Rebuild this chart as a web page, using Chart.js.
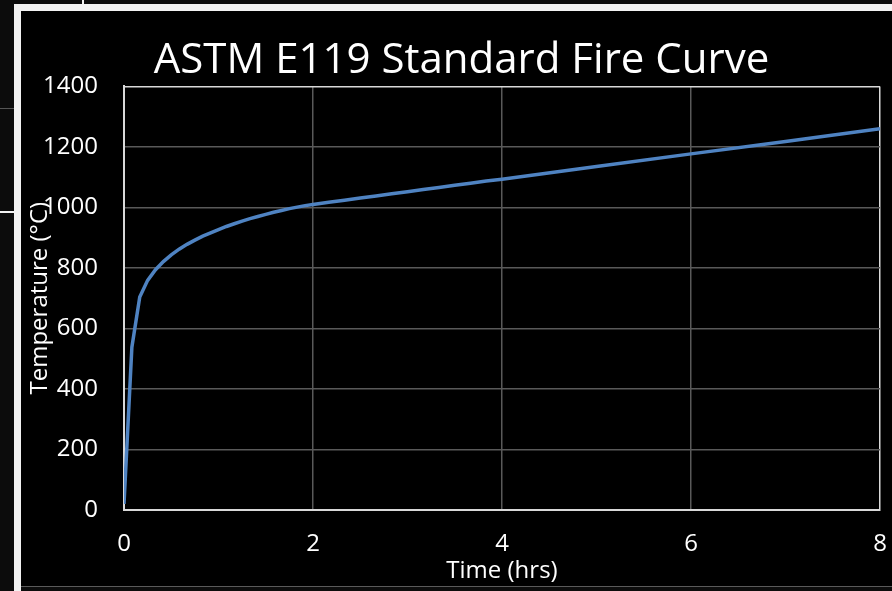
<!DOCTYPE html>
<html>
<head>
<meta charset="utf-8">
<script src="https://cdn.jsdelivr.net/npm/chart.js@4.4.1/dist/chart.umd.min.js"></script>
<style>
  html, body { margin: 0; padding: 0; }
  body { width: 892px; height: 591px; background: #0c0c0c; position: relative; overflow: hidden; }
  .frame-top { position: absolute; left: 14px; top: 4px; width: 878px; height: 7px; background: #f2f2f2; }
  .frame-left { position: absolute; left: 14px; top: 4px; width: 7px; height: 587px; background: #f2f2f2; }
  .tick-top { position: absolute; left: 82px; top: 0; width: 2px; height: 4px; background: #f2f2f2; }
  .side-line { position: absolute; left: 0; top: 211px; width: 14px; height: 2px; background: #f2f2f2; }
  .side-line2 { position: absolute; left: 0; top: 108px; width: 14px; height: 1px; background: #555; }
  #wrap { position: absolute; left: 21px; top: 11px; width: 871px; height: 575px; background: #000; border-bottom: 1px solid #5a5a5a; }
</style>
</head>
<body>
<div class="frame-top"></div>
<div class="frame-left"></div>
<div class="tick-top"></div>
<div class="side-line"></div>
<div class="side-line2"></div>
<div id="wrap"><canvas id="fire-curve"></canvas></div>
<script>
// ASTM E119 time-temperature points (time in minutes, temperature in °C)
const timeMinutes = [0, 5, 10, 15, 20, 25, 30, 35, 40, 45, 50, 55, 60, 65, 70, 75, 80, 85, 90, 95, 100,
  105, 110, 115, 120, 130, 140, 150, 160, 170, 180, 190, 200, 210, 220, 230, 240, 300, 360, 420, 480];
const temperatureC = [20, 538, 704, 759, 794, 821, 843, 862, 878, 892, 905, 916, 927, 937, 946, 955, 963, 970, 977, 984, 990,
  996, 1001, 1006, 1010, 1017, 1024, 1031, 1038, 1045, 1052, 1059, 1066, 1073, 1080, 1087, 1093, 1135, 1177, 1218, 1260];
const xTicks = [0, 2, 4, 6, 8];
const yTicks = [0, 200, 400, 600, 800, 1000, 1200, 1400];

const points = timeMinutes.map((m, i) => ({ x: m / 60, y: temperatureC[i] }));

const font = 'Open Sans';
const gridColor = '#595959';
const edgeColor = '#d9d9d9';

new Chart(document.getElementById('fire-curve').getContext('2d'), {
  type: 'line',
  data: {
    datasets: [{
      label: 'Temperature',
      data: points,
      borderColor: '#4f83c2',
      borderWidth: 3.5,
      pointRadius: 0,
      tension: 0,
      fill: false
    }]
  },
  options: {
    responsive: true,
    maintainAspectRatio: false,
    animation: false,
    // left padding nudges the centred title to where Excel put it
    layout: { padding: { left: 10, right: 0, top: 0, bottom: 0 } },
    plugins: {
      legend: { display: false },
      tooltip: { enabled: false },
      title: {
        display: true,
        text: 'ASTM E119 Standard Fire Curve',
        color: '#ffffff',
        font: { family: font, size: 42, weight: 'normal', lineHeight: 1.2 },
        padding: { top: 25, bottom: 0 }
      }
    },
    scales: {
      x: {
        type: 'linear',
        min: 0,
        max: 8,
        afterBuildTicks: (scale) => { scale.ticks = xTicks.map(v => ({ value: v })); },
        afterFit: (scale) => {
          scale.height = 76;
          scale.paddingLeft = 0;
          scale.paddingRight = 12;
        },
        grid: {
          color: (c) => (c.tick && c.tick.value === 8 ? edgeColor : gridColor),
          lineWidth: 1.5,
          drawTicks: false
        },
        border: { display: true, color: edgeColor, width: 2 },
        ticks: { color: '#ffffff', padding: 20, font: { family: font, size: 24 } },
        title: {
          display: true,
          text: 'Time (hrs)',
          color: '#ffffff',
          font: { family: font, size: 24, lineHeight: 1.2 },
          padding: { top: 0, bottom: 0 }
        }
      },
      y: {
        min: 0,
        max: 1400,
        afterBuildTicks: (scale) => { scale.ticks = yTicks.map(v => ({ value: v })); },
        afterFit: (scale) => { scale.width = 93; },
        grid: {
          color: (c) => (c.tick && c.tick.value === 1400 ? edgeColor : gridColor),
          lineWidth: 1.5,
          drawTicks: false
        },
        border: { display: true, color: edgeColor, width: 2 },
        ticks: {
          color: '#ffffff',
          padding: 26,
          font: { family: font, size: 24 },
          callback: (v) => String(v)
        },
        title: {
          display: true,
          text: 'Temperature (°C)',
          color: '#ffffff',
          font: { family: font, size: 24, lineHeight: 1.2 },
          padding: { top: -5, bottom: 0 }
        }
      }
    }
  }
});
</script>
</body>
</html>
